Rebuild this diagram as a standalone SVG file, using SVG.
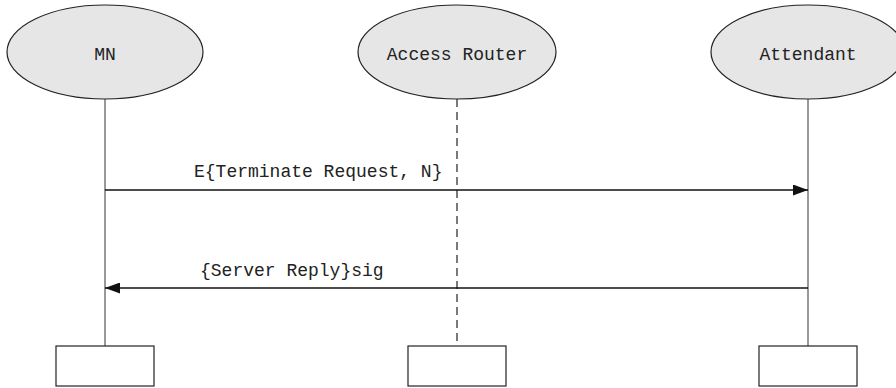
<svg xmlns="http://www.w3.org/2000/svg" width="896" height="388" viewBox="0 0 896 388">
  <style>
    .actor { fill: #e6e6e6; stroke: #222; stroke-width: 1.2; }
    .lbl { font-family: "Liberation Mono", "DejaVu Sans Mono", monospace; font-size: 18px; fill: #222; }
    .life { stroke: #555; stroke-width: 1.2; fill: none; }
    .dash { stroke-dasharray: 8 5; stroke: #222; }
    .box { fill: #fff; stroke: #222; stroke-width: 1.2; }
    .msg { stroke: #111; stroke-width: 1.5; fill: none; }
  </style>
  <defs>
    <marker id="arrow" markerWidth="16" markerHeight="11" refX="15" refY="5.5" orient="auto" markerUnits="userSpaceOnUse">
      <path d="M0,0 L15,5.5 L0,11 Z" fill="#111"/>
    </marker>
  </defs>
  <rect width="896" height="388" fill="#fff"/>

  <!-- lifelines and messages -->
  <g id="connectors">
    <line class="life" x1="105" y1="99" x2="105" y2="346"/>
    <line class="life dash" x1="457" y1="99" x2="457" y2="346"/>
    <line class="life" x1="808" y1="99" x2="808" y2="346"/>
    <line class="msg" x1="105" y1="190" x2="808" y2="190" marker-end="url(#arrow)"/>
    <text class="lbl" x="194" y="177">E{Terminate Request, N}</text>
    <line class="msg" x1="808" y1="288" x2="105" y2="288" marker-end="url(#arrow)"/>
    <text class="lbl" x="200" y="276">{Server Reply}sig</text>
  </g>

  <g id="mn">
    <ellipse class="actor" cx="105" cy="52" rx="98" ry="47"/>
    <text class="lbl" x="105" y="60" text-anchor="middle">MN</text>
    <rect class="box" x="56" y="346" width="98" height="40"/>
  </g>

  <g id="access-router">
    <ellipse class="actor" cx="457" cy="52" rx="99" ry="47"/>
    <text class="lbl" x="457" y="60" text-anchor="middle">Access Router</text>
    <rect class="box" x="408" y="346" width="98" height="40"/>
  </g>

  <g id="attendant">
    <ellipse class="actor" cx="808" cy="52" rx="97" ry="47"/>
    <text class="lbl" x="808" y="60" text-anchor="middle">Attendant</text>
    <rect class="box" x="759" y="346" width="98" height="40"/>
  </g>
</svg>
